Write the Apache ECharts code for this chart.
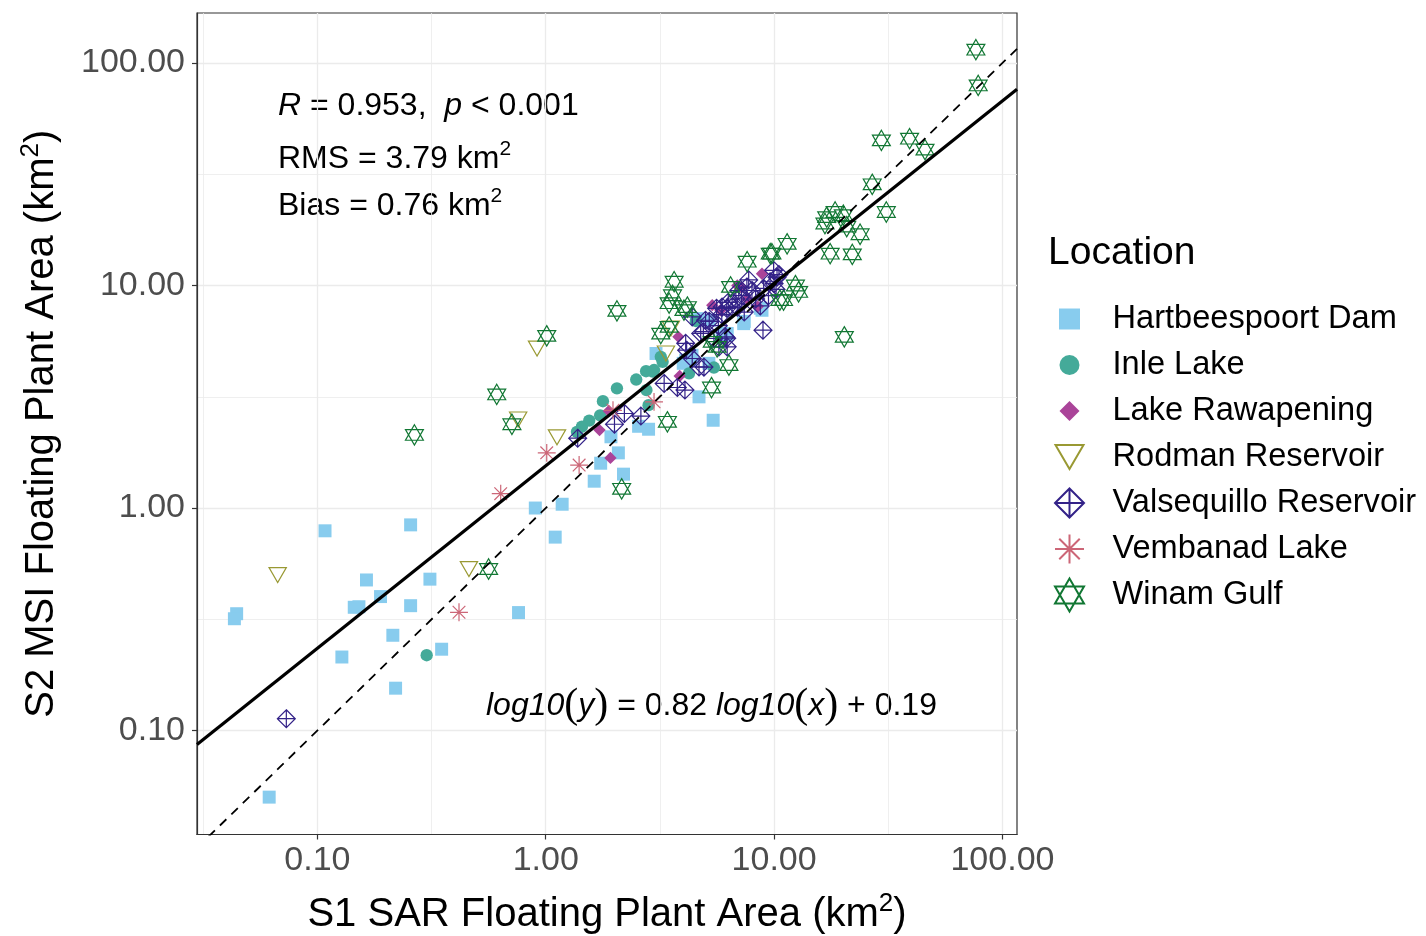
<!DOCTYPE html>
<html>
<head>
<meta charset="utf-8">
<script src="https://cdn.jsdelivr.net/npm/echarts@6.0.0/dist/echarts.min.js"></script>
<style>
  html, body { margin: 0; padding: 0; background: #fff; }
  #chart { width: 1426px; height: 936px; }
</style>
</head>
<body>
<div id="chart"></div>
<script>
  // axis ranges (km2, log scale)
  const X_MIN = 0.0297, X_MAX = 115.8;
  const Y_MIN = 0.0341, Y_MAX = 167.8;
  const majorTicks = [0.1, 1, 10, 100];
  const xMinorTicks = [0.0316, 0.316, 3.16, 31.6];
  const yMinorTicks = [0.316, 3.16, 31.6];

  // fit shown on the plot
  const fitSlope = 0.82, fitIntercept = 0.19;

  const locations = ['Hartbeespoort Dam', 'Inle Lake', 'Lake Rawapening', 'Rodman Reservoir',
    'Valsequillo Reservoir', 'Vembanad Lake', 'Winam Gulf'];
  const colors = ['#88CCEE', '#44AA99', '#AA4499', '#999933', '#332288', '#CC6677', '#117733'];

  // [S1 SAR, S2 MSI]
  const hartbeespoort = [
    [0.108, 0.79], [0.256, 0.84], [0.90, 1.0], [1.10, 0.74], [0.0443, 0.335], [0.0433, 0.318],
    [0.164, 0.475], [0.189, 0.40], [0.145, 0.358], [0.152, 0.36], [0.311, 0.479], [0.256, 0.364],
    [0.214, 0.268], [0.128, 0.214], [0.350, 0.232], [0.220, 0.155], [0.760, 0.339], [0.0615, 0.0502],
    [1.18, 1.04], [1.63, 1.32], [1.74, 1.59], [2.08, 1.77], [2.19, 1.42], [1.93, 2.09],
    [3.04, 4.95], [4.69, 3.16], [5.41, 2.48], [2.82, 2.26], [2.55, 2.33], [4.31, 4.62], [6.23, 6.09],
    [8.85, 7.74], [7.36, 6.74], [5.92, 6.09], [4.1, 4.62], [5.18, 4.47], [7.4, 6.9], [6.2, 6.0],
    [4.6, 7.1], [8.7, 7.9], [5.2, 7.0], [4.0, 4.47], [4.37, 4.86]
  ];
  const inle = [
    [0.301, 0.218], [2.05, 3.45], [1.78, 3.02], [1.73, 2.61], [1.55, 2.47], [1.44, 2.32], [1.37, 2.2],
    [3.19, 4.78], [3.25, 4.54], [2.98, 4.17], [2.75, 4.12], [2.49, 3.78], [2.76, 3.39], [2.82, 2.90],
    [5.45, 4.28], [4.54, 6.93], [4.24, 4.03], [2.94, 4.1]
  ];
  const rawapening = [
    [1.92, 1.68], [1.72, 2.24], [1.89, 2.73], [3.81, 5.88], [3.86, 3.92], [5.36, 8.16],
    [5.82, 7.74], [7.62, 8.7], [8.85, 11.3], [8.48, 8.04], [7.2, 9.8], [6.9, 10.0]
  ];
  const rodman = [
    [0.067, 0.50], [0.461, 0.532], [0.916, 5.21], [0.757, 2.50], [1.12, 2.08], [3.53, 6.41], [3.36, 4.95]
  ];
  const valsequillo = [
    [0.0731, 0.113], [1.38, 2.06], [2.00, 2.38], [2.21, 2.66], [2.61, 2.59], [3.30, 3.63],
    [3.77, 3.48], [4.07, 3.39], [4.69, 4.31], [4.14, 5.12], [4.38, 4.70], [4.38, 7.23],
    [5.01, 6.98], [6.23, 5.30], [4.77, 6.09], [5.45, 5.78], [5.92, 8.0], [6.55, 8.0],
    [8.94, 6.30], [9.95, 11.7], [7.74, 10.6], [4.1, 5.5], [9.0, 9.7], [7.6, 9.85],
    [7.2, 9.0], [6.8, 8.7], [6.3, 8.4], [8.3, 8.7], [8.7, 8.1], [9.45, 9.0],
    [5.9, 7.4], [5.6, 7.9], [5.2, 6.9], [4.9, 6.2], [6.2, 5.8], [7.4, 7.6],
    [6.9, 8.0], [5.7, 6.6], [4.93, 4.3], [5.73, 5.3], [6.1, 5.88], [6.2, 7.9],
    [10.3, 10.9], [10.0, 10.2], [9.6, 10.4], [8.0, 9.5], [7.0, 9.5], [10.5, 11.2], [10.2, 9.6]
  ];
  const vembanad = [
    [0.417, 0.340], [0.635, 1.16], [1.01, 1.77], [1.40, 1.56], [2.98, 3.00], [1.97, 2.75]
  ];
  const winam = [
    [0.562, 0.532], [2.05, 7.69], [1.01, 5.94], [0.610, 3.24], [0.266, 2.13], [0.711, 2.38],
    [2.15, 1.22], [3.47, 8.33], [4.03, 7.75], [3.19, 6.08], [3.47, 6.52], [6.34, 4.39],
    [5.32, 3.48], [3.41, 2.44], [5.63, 5.30], [11.4, 15.4], [9.62, 13.9], [7.62, 12.8],
    [3.65, 10.4], [3.59, 9.04], [12.4, 10.0], [12.8, 9.36], [11.0, 8.59], [6.45, 9.86],
    [76.5, 114.8], [78.3, 79.3], [29.5, 44.9], [39.2, 45.7], [45.8, 40.8], [26.9, 28.5],
    [31.0, 21.4], [17.0, 20.3], [20.1, 20.7], [16.7, 19.0], [18.5, 21.4], [20.8, 18.4],
    [23.8, 17.0], [17.6, 13.9], [22.0, 13.8], [9.78, 13.9], [10.6, 8.6], [20.3, 5.88],
    [4.17, 8.0], [5.36, 5.58]
  ];
  const groups = [hartbeespoort, inle, rawapening, rodman, valsequillo, vembanad, winam];

  // symbols drawn in a 34x34 frame (first two moves pin the frame so legend keys keep their size)
  const F = 'path://M0,0 M34,34 ';
  const shapes = [
    F + 'M6.5,6.5 L27.5,6.5 L27.5,27.5 L6.5,27.5 Z',
    F + 'M27,17 A10,10 0 1,1 7,17 A10,10 0 1,1 27,17 Z',
    F + 'M17,7 L27,17 L17,27 L7,17 Z',
    F + 'M3,4.9 L31,4.9 L17,29.1 Z',
    F + 'M17,2.5 L31.5,17 L17,31.5 L2.5,17 Z M17,2.5 L17,31.5 M2.5,17 L31.5,17',
    F + 'M2.5,17 L31.5,17 M17,2.5 L17,31.5 M6.75,6.75 L27.25,27.25 M6.75,27.25 L27.25,6.75',
    F + 'M17,0.5 L31.5,25.6 L2.5,25.6 Z M2.5,8.4 L31.5,8.4 L17,33.5 Z'
  ];
  const filled = [true, true, true, false, false, false, false];

  const FONT = 'Liberation Sans, Arial, sans-serif';
  const log10 = Math.log10;
  const fitY = x => Math.pow(10, fitSlope * log10(x) + fitIntercept);

  const chart = echarts.init(document.getElementById('chart'));

  const pointSeries = locations.map((name, i) => ({
    name: name,
    type: 'scatter',
    xAxisIndex: 0,
    yAxisIndex: 0,
    symbol: shapes[i],
    symbolSize: 21,
    data: groups[i],
    itemStyle: filled[i]
      ? { color: colors[i], opacity: 1 }
      : { color: 'none', borderColor: colors[i], borderWidth: 1.2, opacity: 1 },
    emphasis: { disabled: true },
    z: 3
  }));

  const supRich = (size) => ({
    i: { fontStyle: 'italic', fontFamily: FONT, fontSize: 32, color: '#000' },
    sup: { fontSize: size, fontFamily: FONT, color: '#000', lineHeight: size, verticalAlign: 'top' }
  });

  chart.setOption({
    animation: false,
    backgroundColor: '#fff',
    textStyle: { fontFamily: FONT },
    grid: {
      left: 197, top: 13, width: 820, height: 821.5,
      show: true, borderColor: '#333', borderWidth: 1.2,
      containLabel: false, outerBoundsMode: 'none'
    },
    legend: {
      data: locations,
      orient: 'vertical',
      left: 1045, top: 294,
      itemWidth: 76, itemHeight: 34, itemGap: 6.0,
      selectedMode: false,
      textStyle: { fontSize: 32.6, color: '#000', fontFamily: FONT, lineHeight: 40 }
    },
    xAxis: [{
      type: 'log', logBase: 10, min: X_MIN, max: X_MAX,
      name: 'S1 SAR Floating Plant Area (km{sup|2})',
      nameLocation: 'middle', nameGap: 56,
      nameTextStyle: { fontSize: 40, color: '#000', fontFamily: FONT, lineHeight: 48, rich: supRich(26) },
      axisLine: { show: true, onZero: false, lineStyle: { color: '#333', width: 1.2 } },
      axisTick: { show: true, customValues: majorTicks, length: 5, lineStyle: { color: '#333', width: 1.2 } },
      axisLabel: { customValues: majorTicks, formatter: v => Number(v).toFixed(2),
        color: '#4D4D4D', fontSize: 34, fontFamily: FONT, margin: 9 },
      splitLine: { show: true, lineStyle: { color: '#EBEBEB', width: 1.3 } },
      minorTick: { show: false }, minorSplitLine: { show: false }
    }, {
      type: 'log', logBase: 10, min: X_MIN, max: X_MAX,
      axisLine: { show: false }, axisLabel: { show: false },
      axisTick: { show: false, customValues: xMinorTicks },
      splitLine: { show: true, lineStyle: { color: '#EBEBEB', width: 0.8 } }
    }],
    yAxis: [{
      type: 'log', logBase: 10, min: Y_MIN, max: Y_MAX,
      name: 'S2 MSI Floating Plant Area (km{sup|2})',
      nameLocation: 'middle', nameGap: 131,
      nameTextStyle: { fontSize: 40, color: '#000', fontFamily: FONT, lineHeight: 48, rich: supRich(26) },
      axisLine: { show: true, onZero: false, lineStyle: { color: '#333', width: 1.2 } },
      axisTick: { show: true, customValues: majorTicks, length: 5, lineStyle: { color: '#333', width: 1.2 } },
      axisLabel: { customValues: majorTicks, formatter: v => Number(v).toFixed(2),
        color: '#4D4D4D', fontSize: 34, fontFamily: FONT, margin: 12 },
      splitLine: { show: true, lineStyle: { color: '#EBEBEB', width: 1.3 } },
      minorTick: { show: false }, minorSplitLine: { show: false }
    }, {
      type: 'log', logBase: 10, min: Y_MIN, max: Y_MAX,
      axisLine: { show: false }, axisLabel: { show: false },
      axisTick: { show: false, customValues: yMinorTicks },
      splitLine: { show: true, lineStyle: { color: '#EBEBEB', width: 0.8 } }
    }],
    series: pointSeries.concat([{
      name: 'fit',
      type: 'line',
      data: [[X_MIN, fitY(X_MIN)], [X_MAX, fitY(X_MAX)]],
      showSymbol: false, silent: true, clip: true,
      lineStyle: { color: '#000', width: 3.2 },
      z: 5
    }, {
      name: '1:1',
      type: 'line',
      data: [[X_MIN, X_MIN], [X_MAX, X_MAX]],
      showSymbol: false, silent: true, clip: true,
      lineStyle: { color: '#000', width: 1.8, type: [9, 7] },
      z: 5
    }]),
    graphic: [{
      type: 'text', x: 1048, y: 253,
      style: { text: 'Location', fontSize: 39, fontFamily: FONT, fill: '#000', verticalAlign: 'middle' }
    }, {
      type: 'text', x: 278, y: 106,
      style: { text: '{i|R} = 0.953,  {i|p} < 0.001', fontSize: 32, fontFamily: FONT, fill: '#000',
        verticalAlign: 'middle', lineHeight: 40, rich: supRich(21) }
    }, {
      type: 'text', x: 278, y: 159,
      style: { text: 'RMS = 3.79 km{sup|2}', fontSize: 32, fontFamily: FONT, fill: '#000',
        verticalAlign: 'middle', lineHeight: 40, rich: supRich(21) }
    }, {
      type: 'text', x: 278, y: 206,
      style: { text: 'Bias = 0.76 km{sup|2}', fontSize: 32, fontFamily: FONT, fill: '#000',
        verticalAlign: 'middle', lineHeight: 40, rich: supRich(21) }
    }, {
      type: 'text', x: 486, y: 706,
      style: {
        text: '{i|log10}{p|(}{i|y}{p|)} = 0.82 {i|log10}{p|(}{i|x}{p|)} + 0.19',
        fontSize: 32, fontFamily: FONT, fill: '#000', verticalAlign: 'middle', lineHeight: 44,
        rich: {
          i: { fontStyle: 'italic', fontFamily: FONT, fontSize: 32, color: '#000' },
          p: { fontFamily: 'Liberation Serif, serif', fontSize: 42, color: '#000' }
        }
      }
    }]
  });
</script>
</body>
</html>
